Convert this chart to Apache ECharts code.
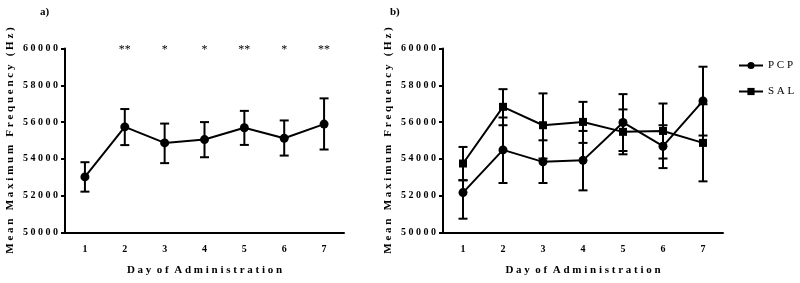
<!DOCTYPE html>
<html>
<head>
<meta charset="utf-8">
<script src="https://cdn.jsdelivr.net/npm/echarts@6/dist/echarts.min.js"></script>
<style>html,body{margin:0;padding:0;background:#fff}#c{width:800px;height:283px}</style>
</head>
<body>
<div id="c"></div>
<script>
// ---- data ----
const days = ['1', '2', '3', '4', '5', '6', '7'];
const yMin = 50000, yMax = 60000, yStep = 2000;

// panel a) single group
const aMean = [53020, 55740, 54870, 55050, 55690, 55120, 55890];
const aLow  = [52220, 54750, 53770, 54090, 54760, 54180, 54510];
const aHigh = [53820, 56710, 55920, 56000, 56610, 56090, 57290];
const aStars = ['', '**', '*', '*', '**', '*', '**'];

// panel b) PCP vs SAL
const pcpMean = [52170, 54490, 53840, 53920, 55980, 54690, 57150];
const pcpLow  = [50750, 52690, 52690, 52290, 54430, 53500, 55270];
const pcpHigh = [52840, 56250, 55010, 55520, 57520, 55830, 59010];
const salMean = [53750, 56830, 55830, 56010, 55470, 55520, 54870];
const salLow  = [52840, 55830, 54020, 54870, 54250, 54020, 52780];
const salHigh = [54650, 57790, 57560, 57100, 56690, 57010, 56970];

const xName = 'Day of Administration';
const yName = 'Mean Maximum Frequency (Hz)';
const legendNames = ['PCP', 'SAL'];

// ---- helpers ----
function spaced(s, gap) {
  return s.split(' ').map(w => w.split('').join(' ')).join(gap);
}
const FONT = 'Liberation Serif';
const black = '#000';

function errData(lo, hi) { return lo.map((v, i) => [i, v, hi[i]]); }

function errRender(params, api) {
  const x = api.value(0);
  const p1 = api.coord([x, api.value(1)]);
  const p2 = api.coord([x, api.value(2)]);
  const w = 4.5;
  const st = { stroke: black, lineWidth: 2 };
  return {
    type: 'group',
    children: [
      { type: 'line', shape: { x1: p1[0], y1: p1[1], x2: p2[0], y2: p2[1] }, style: st },
      { type: 'line', shape: { x1: p1[0] - w, y1: p1[1], x2: p1[0] + w, y2: p1[1] }, style: st },
      { type: 'line', shape: { x1: p2[0] - w, y1: p2[1], x2: p2[0] + w, y2: p2[1] }, style: st }
    ]
  };
}

function starRender(params, api) {
  const i = api.value(0);
  const p = api.coord([i, yMax]);
  return {
    type: 'text',
    x: p[0], y: p[1] + 1.5,
    style: { text: aStars[i], fill: black, font: '12px ' + FONT, align: 'center', verticalAlign: 'middle' }
  };
}

function xAxis(gi) {
  return {
    type: 'category', gridIndex: gi, data: days, boundaryGap: true,
    axisLine: { lineStyle: { color: black, width: 2 } },
    axisTick: { alignWithLabel: true, length: 4, lineStyle: { color: black, width: 2 } },
    axisLabel: { color: black, fontFamily: FONT, fontWeight: 'bold', fontSize: 10, margin: 12 },
    name: spaced(xName, '  '), nameLocation: 'middle', nameGap: 32,
    nameTextStyle: { color: black, fontFamily: FONT, fontWeight: 'bold', fontSize: 11 },
    splitLine: { show: false }
  };
}
function yAxis(gi) {
  return {
    type: 'value', gridIndex: gi, min: yMin, max: yMax, interval: yStep,
    axisLine: { show: true, lineStyle: { color: black, width: 2 } },
    axisTick: { show: true, length: 4, lineStyle: { color: black, width: 2 } },
    axisLabel: { color: black, fontFamily: FONT, fontWeight: 'bold', fontSize: 10, margin: 7,
      formatter: v => String(v).split('').join(' ') },
    name: spaced(yName, '   '), nameLocation: 'middle', nameGap: 49, nameRotate: 90,
    nameTextStyle: { color: black, fontFamily: FONT, fontWeight: 'bold', fontSize: 11 },
    splitLine: { show: false }
  };
}

const chart = echarts.init(document.getElementById('c'), null, { renderer: 'canvas' });
chart.setOption({
  animation: false,
  backgroundColor: '#fff',
  title: [
    { text: 'a)', left: 35, top: 2, textStyle: { fontFamily: FONT, fontWeight: 'bold', fontSize: 11, color: black } },
    { text: 'b)', left: 385, top: 2, textStyle: { fontFamily: FONT, fontWeight: 'bold', fontSize: 11, color: black } }
  ],
  legend: {
    data: legendNames, orient: 'vertical', left: 733, top: 55,
    itemWidth: 24, itemHeight: 9, itemGap: 15,
    formatter: n => n.split('').join(' '),
    textStyle: { color: black, fontFamily: FONT, fontSize: 11 }
  },
  grid: [
    { left: 65, top: 48.5, width: 279, height: 184 },
    { left: 443, top: 48.5, width: 280, height: 184 }
  ],
  xAxis: [xAxis(0), xAxis(1)],
  yAxis: [yAxis(0), yAxis(1)],
  series: [
    { type: 'custom', xAxisIndex: 0, yAxisIndex: 0, renderItem: errRender, data: errData(aLow, aHigh), z: 2, silent: true },
    { type: 'line', name: 'a', xAxisIndex: 0, yAxisIndex: 0, data: aMean, symbol: 'circle', symbolSize: 9,
      lineStyle: { color: black, width: 2 }, itemStyle: { color: black }, z: 3 },
    { type: 'custom', xAxisIndex: 0, yAxisIndex: 0, renderItem: starRender, data: aStars.map((s, i) => [i, yMax]), z: 4, silent: true },

    { type: 'custom', xAxisIndex: 1, yAxisIndex: 1, renderItem: errRender, data: errData(pcpLow, pcpHigh), z: 2, silent: true },
    { type: 'custom', xAxisIndex: 1, yAxisIndex: 1, renderItem: errRender, data: errData(salLow, salHigh), z: 2, silent: true },
    { type: 'line', name: 'PCP', xAxisIndex: 1, yAxisIndex: 1, data: pcpMean, symbol: 'circle', symbolSize: 9,
      lineStyle: { color: black, width: 2 }, itemStyle: { color: black }, z: 3 },
    { type: 'line', name: 'SAL', xAxisIndex: 1, yAxisIndex: 1, data: salMean, symbol: 'rect', symbolSize: 8,
      lineStyle: { color: black, width: 2 }, itemStyle: { color: black }, z: 3 }
  ]
});
</script>
</body>
</html>
